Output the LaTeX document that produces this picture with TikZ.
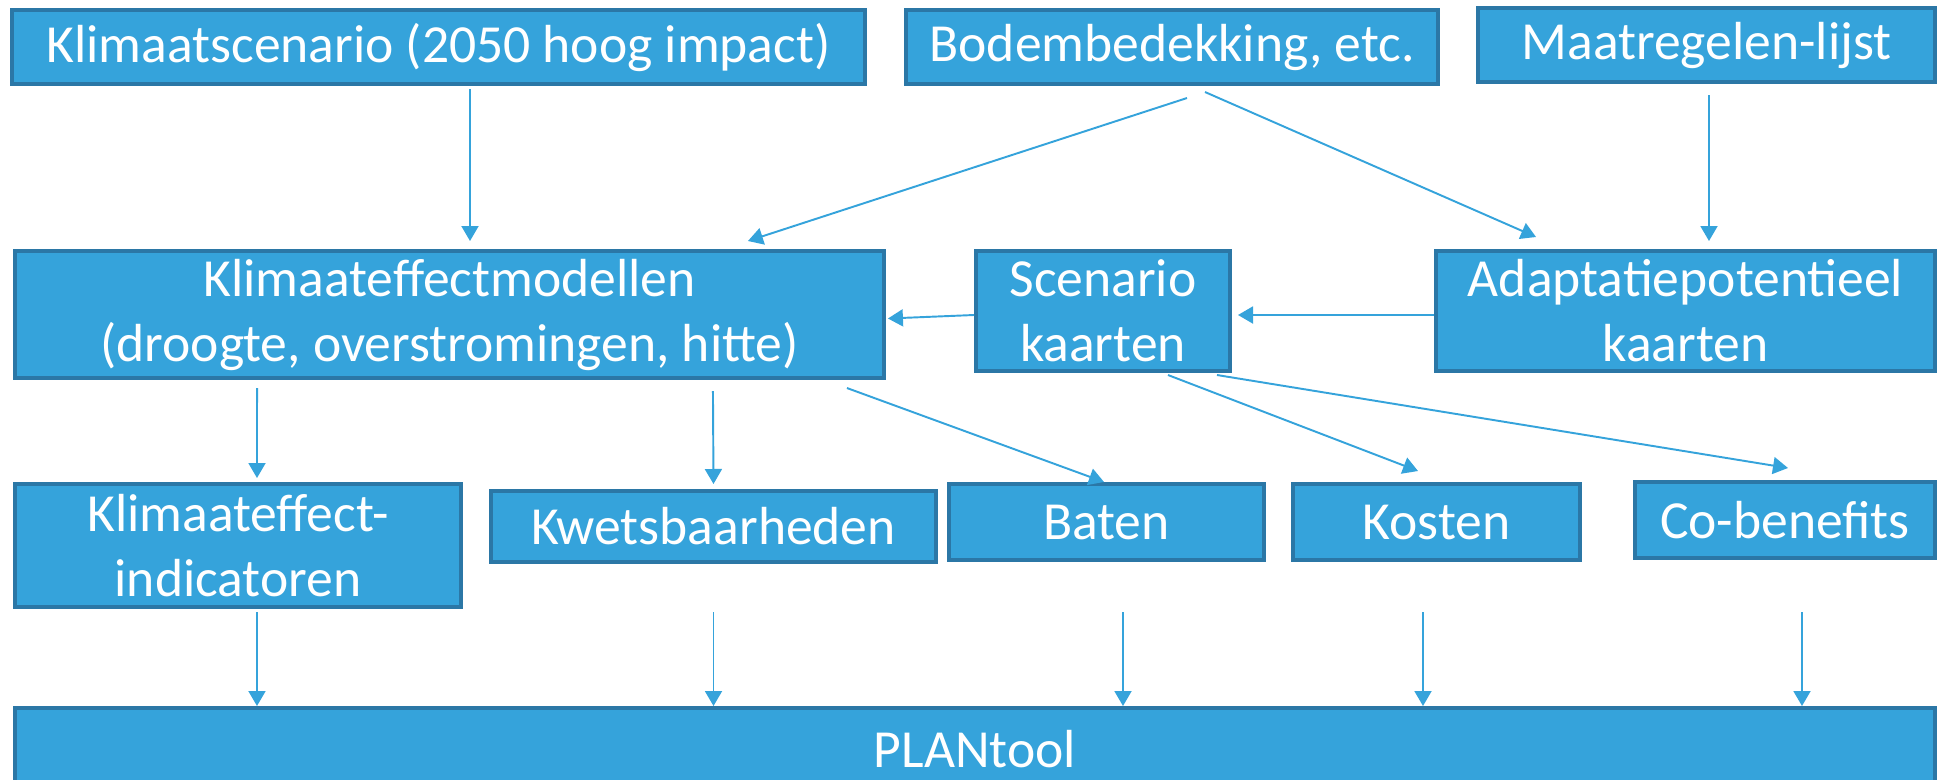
\documentclass[tikz,border=0pt]{standalone}
\usepackage{fontspec}
\setmainfont{Carlito}
\usepackage{tikz}
\usetikzlibrary{arrows.meta,positioning,calc}
\definecolor{boxfill}{HTML}{35A3DB}
\definecolor{boxline}{HTML}{2B77A6}
\definecolor{linkcol}{HTML}{35A3DB}

\begin{document}
\begin{tikzpicture}[
    x=0.02cm, y=-0.02cm,
    inner sep=0pt, %text sits in fixed size boxes
    box/.style={rectangle,draw=boxline,fill=boxfill,line width=2.3pt,
        text=white,align=center,font=\fontsize{30.5}{37}\selectfont},
    link/.style={draw=linkcol,line width=1.1pt,
        -{Triangle[width=0.34cm,length=0.3cm]}},
    ]
    \useasboundingbox (0,0) rectangle (1938,779);
    % top row
    \node[box,minimum width=17.06cm,minimum height=1.48cm] (klim) at (438.5,47)
        {Klimaatscenario (2050 hoog impact)};
    \node[box,minimum width=10.64cm,minimum height=1.48cm] (bodem) at (1172,47)
        {Bodembedekking, etc.};
    \node[box,minimum width=9.14cm,minimum height=1.48cm] (maatr) at (1706.5,45)
        {Maatregelen-lijst};
    % middle row
    \node[box,minimum width=17.38cm,minimum height=2.54cm] (model) at (449.5,314.5)
        {Klimaateffectmodellen\\(droogte, overstromingen, hitte)};
    \node[box,minimum width=5.08cm,minimum height=2.4cm] (scen) at (1103,311)
        {Scenario\\kaarten};
    \node[box,minimum width=9.98cm,minimum height=2.4cm] (adapt) at (1685.5,311)
        {Adaptatiepotentieel\\kaarten};
    % results
    \node[box,minimum width=8.92cm,minimum height=2.46cm] (ind) at (238,545.5)
        {Klimaateffect-\\indicatoren};
    \node[box,minimum width=8.9cm,minimum height=1.42cm] (kwets) at (713.5,526.5)
        {Kwetsbaarheden};
    \node[box,minimum width=6.3cm,minimum height=1.52cm] (baten) at (1106.5,522)
        {Baten};
    \node[box,minimum width=5.74cm,minimum height=1.52cm] (kosten) at (1436.5,522)
        {Kosten};
    \node[box,minimum width=6cm,minimum height=1.52cm] (cob) at (1785,520)
        {Co-benefits};
    \node[box,minimum width=38.4cm,minimum height=1.64cm] (plan) at (975,749)
        {PLANtool};

    \draw[link] ([xshift=.63cm,yshift=-.06cm]klim.south)
        -- ([xshift=.41cm,yshift=.16cm]model.north);
    \draw[link] ([xshift=.3cm,yshift=-.24cm]bodem.south)
        -- ([xshift=5.97cm,yshift=.16cm]model.north);
    \draw[link] ([xshift=.66cm,yshift=-.12cm]bodem.south)
        -- ([xshift=-2.99cm,yshift=.24cm]adapt.north);
    \draw[link] ([xshift=.05cm,yshift=-.22cm]maatr.south)
        -- ([xshift=.47cm,yshift=.16cm]adapt.north);
    \draw[link] ([yshift=-.08cm]adapt.west)
        -- ([xshift=.12cm,yshift=-.08cm]scen.east);
    \draw[link] ([yshift=-.08cm]scen.west)
        -- ([xshift=.04cm,yshift=-.08cm]model.east);
    \draw[link] ([xshift=-3.85cm,yshift=-.16cm]model.south)
        -- ([xshift=.38cm,yshift=.08cm]ind.north);
    \draw[link] ([xshift=5.27cm,yshift=-.22cm]model.south)
        -- ([yshift=.1cm]kwets.north);
    \draw[link] ([xshift=7.95cm,yshift=-.16cm]model.south)
        -- ([xshift=-.05cm]baten.north);
    \draw[link] ([xshift=1.3cm,yshift=-.04cm]scen.south)
        -- ([xshift=-.37cm,yshift=.22cm]kosten.north);
    \draw[link] ([xshift=2.28cm,yshift=-.04cm]scen.south)
        -- ([xshift=.06cm,yshift=.24cm]cob.north);
    % everything goes into the tool
    \foreach \n/\dx in {ind/.38,kwets/0,baten/.33,kosten/-.27,cob/.34}
        \draw[link] ([xshift=\dx cm,yshift=-.06cm]\n.south |- ind.south)
            -- ([xshift=\dx cm]\n.south |- plan.north);
\end{tikzpicture}
\end{document}
